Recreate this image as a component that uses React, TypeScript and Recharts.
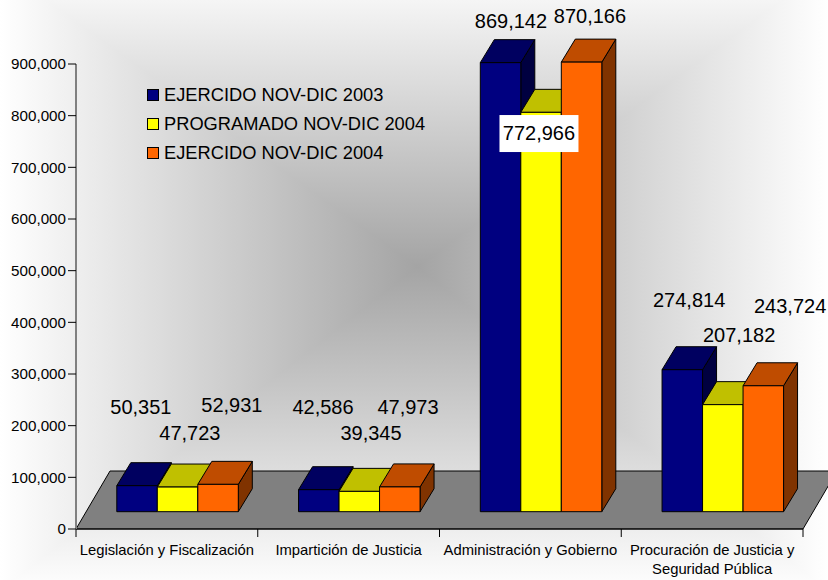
import { Bar, ComposedChart, LabelList, Line, Text, XAxis, YAxis } from "recharts";

const categories = [
	"Legislación y Fiscalización",
	"Impartición de Justicia",
	"Administración y Gobierno",
	"Procuración de Justicia y Seguridad Pública",
];
const ejercido2003 = [50351, 42586, 869142, 274814];
const programado2004 = [47723, 39345, 772966, 207182];
const ejercido2004 = [52931, 47973, 870166, 243724];
const yTicks = [0, 100000, 200000, 300000, 400000, 500000, 600000, 700000, 800000, 900000];

const seriesNames = ["EJERCIDO NOV-DIC 2003", "PROGRAMADO NOV-DIC 2004", "EJERCIDO NOV-DIC 2004"];

const chartData = categories.map((name, i) => ({
	name,
	a: ejercido2003[i],
	b: programado2004[i],
	c: ejercido2004[i],
}));

const FONT = "'Liberation Sans', Arial, sans-serif";
const WIDTH = 828;
const HEIGHT = 580;
const LEFT = 76;
const TOP = 64;
const RIGHT = 803;
const BOTTOM = 529;
const BAND = (RIGHT - LEFT) / categories.length;

// the 3D look: bars sit in the middle of the floor and have some depth
const SHIFT_X = 10.8;
const SHIFT_Y = -17.3;
const DEPTH_X = 14;
const DEPTH_Y = 23;

const navy = { front: "#000080", top: "#000060", side: "#000040" };
const yellow = { front: "#ffff00", top: "#c0c000", side: "#808000" };
const orange = { front: "#ff6600", top: "#bf4c00", side: "#803300" };

// labels were placed by hand in the original, offset from band centre / value
const nudgeA = [[-26, -96], [-25.6, -100], [-19.4, -59], [-23, -87]];
const nudgeB = [[23, -71.3], [22.4, -75.7], [8.6, 3.4], [27, -87]];
const nudgeC = [[65, -96.7], [59.4, -97.2], [59.6, -63.4], [78, -97]];

function Box3D(props: any) {
	const { x, y, width, height, colors } = props;
	const l = x + SHIFT_X;
	const r = l + width;
	const t = y + SHIFT_Y;
	const b = t + height;
	return (
		<g stroke="#000" strokeWidth={1} strokeLinejoin="round">
			<polygon
				points={`${r},${t} ${r + DEPTH_X},${t - DEPTH_Y} ${r + DEPTH_X},${b - DEPTH_Y} ${r},${b}`}
				fill={colors.side}
			/>
			<polygon
				points={`${l},${t} ${l + DEPTH_X},${t - DEPTH_Y} ${r + DEPTH_X},${t - DEPTH_Y} ${r},${t}`}
				fill={colors.top}
			/>
			<rect x={l} y={t} width={width} height={height} fill={colors.front} />
		</g>
	);
}

function Floor() {
	const d = `M${LEFT},${BOTTOM} L${LEFT + 34},${BOTTOM - 58} L${RIGHT + 34},${BOTTOM - 58} L${RIGHT},${BOTTOM} Z`;
	return <path d={d} fill="#808080" stroke="#000" strokeWidth={1} />;
}

function CategoryTick(props: any) {
	const { x, y, payload, index } = props;
	const left = x - BAND / 2;
	const isLast = index === categories.length - 1;
	return (
		<g>
			<line x1={left} y1={BOTTOM} x2={left} y2={BOTTOM + 8} stroke="#000" />
			{isLast && (
				<line x1={left + BAND} y1={BOTTOM} x2={left + BAND} y2={BOTTOM + 8} stroke="#000" />
			)}
			<Text
				x={x}
				y={y + 7}
				width={BAND - 4}
				textAnchor="middle"
				verticalAnchor="start"
				lineHeight={19}
				fontSize={14.8}
				fontFamily={FONT}
				fill="#000"
			>
				{payload.value}
			</Text>
		</g>
	);
}

function valueLabel(nudge: number[][]) {
	return (props: any) => {
		const { x, y, value, index } = props;
		const [dx, dy] = nudge[index];
		const boxed = value === 772966;
		return (
			<g>
				{boxed && <rect x={x + dx - 39.5} y={y + dy - 18} width={79} height={37} fill="#fff" />}
				<text
					x={x + dx}
					y={y + dy}
					textAnchor="middle"
					dominantBaseline="central"
					fontSize={20}
					fontFamily={FONT}
					fill="#000"
				>
					{Number(value).toLocaleString("en-US")}
				</text>
			</g>
		);
	};
}

function ChartLegend() {
	const swatches = [navy.front, yellow.front, orange.front];
	return (
		<div style={{ position: "absolute", left: 147, top: 80, fontFamily: FONT, fontSize: 18.3, color: "#000" }}>
			{seriesNames.map((name, i) => (
				<div key={name} style={{ display: "flex", alignItems: "center", height: 29 }}>
					<span
						style={{
							boxSizing: "border-box",
							width: 12,
							height: 12,
							background: swatches[i],
							border: "1px solid #000",
							marginRight: 5,
						}}
					/>
					{name}
				</div>
			))}
		</div>
	);
}

export default function App() {
	return (
		<div
			style={{
				position: "absolute",
				left: 0,
				top: 0,
				width: WIDTH,
				height: HEIGHT,
				overflow: "hidden",
				background:
					"linear-gradient(to right, #ffffff 0%, #a4a4a4 50.4%, #ffffff 100%), linear-gradient(to bottom, #f5f5f5 0%, #a4a4a4 46%, #fcfcfc 100%)",
				backgroundBlendMode: "lighten",
			}}
		>
			<ComposedChart
				width={WIDTH}
				height={HEIGHT}
				data={chartData}
				margin={{ top: TOP, right: WIDTH - RIGHT, bottom: 0, left: 0 }}
				barSize={40.5}
				barGap={0}
			>
				<Floor />
				<XAxis
					dataKey="name"
					height={HEIGHT - BOTTOM}
					axisLine={{ stroke: "#000", strokeWidth: 1 }}
					tickLine={false}
					interval={0}
					tick={<CategoryTick />}
				/>
				<YAxis
					width={LEFT}
					domain={[0, 900000]}
					ticks={yTicks}
					tickSize={8}
					tickMargin={2}
					interval={0}
					axisLine={{ stroke: "#808080", strokeWidth: 2 }}
					tickLine={{ stroke: "#000" }}
					tick={{ fontSize: 15.2, fontFamily: FONT, fill: "#000" }}
					tickFormatter={(v: number) => v.toLocaleString("en-US")}
				/>
				<Bar dataKey="a" isAnimationActive={false} shape={(p: any) => <Box3D {...p} colors={navy} />} />
				<Bar dataKey="b" isAnimationActive={false} shape={(p: any) => <Box3D {...p} colors={yellow} />} />
				<Bar dataKey="c" isAnimationActive={false} shape={(p: any) => <Box3D {...p} colors={orange} />} />
				<Line dataKey="a" stroke="none" dot={false} isAnimationActive={false}>
					<LabelList dataKey="a" content={valueLabel(nudgeA)} />
				</Line>
				<Line dataKey="b" stroke="none" dot={false} isAnimationActive={false}>
					<LabelList dataKey="b" content={valueLabel(nudgeB)} />
				</Line>
				<Line dataKey="c" stroke="none" dot={false} isAnimationActive={false}>
					<LabelList dataKey="c" content={valueLabel(nudgeC)} />
				</Line>
			</ComposedChart>
			<ChartLegend />
		</div>
	);
}
